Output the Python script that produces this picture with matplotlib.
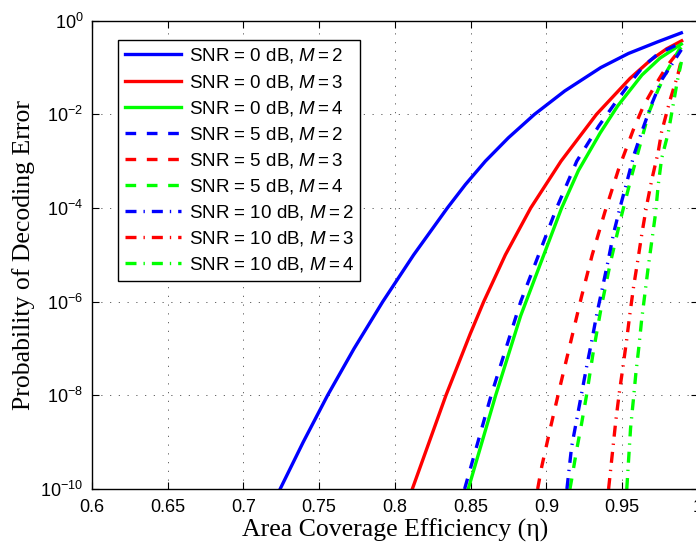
import numpy as np
import matplotlib
matplotlib.use('Agg')
import matplotlib.pyplot as plt
from matplotlib.ticker import NullLocator

plt.rcParams['font.family'] = ['Liberation Sans', 'DejaVu Sans']
plt.rcParams['mathtext.fontset'] = 'custom'
plt.rcParams['mathtext.rm'] = 'Liberation Sans'
plt.rcParams['mathtext.it'] = 'Liberation Sans:italic'
plt.rcParams['mathtext.bf'] = 'Liberation Sans:bold'

# values: eta and log10(P)
eta_0dB_M2 = [0.7243, 0.7395, 0.7556, 0.7731, 0.7920, 0.8124, 0.8346, 0.8465, 0.8597, 0.8749, 0.8921, 0.9121, 0.9359, 0.9541, 0.9735, 0.9890]
logp_0dB_M2 = [-10, -9, -8, -7, -6, -5, -4, -3.5, -3, -2.5, -2, -1.5, -1.0, -0.7, -0.45, -0.26]

eta_0dB_M3 = [0.8115, 0.8337, 0.8498, 0.8586, 0.8729, 0.8896, 0.9096, 0.9330, 0.9552, 0.9684, 0.9793, 0.9892]
logp_0dB_M3 = [-10, -8, -6.68, -6, -5, -4, -3, -2, -1.23, -0.85, -0.60, -0.43]

eta_0dB_M4 = [0.8484, 0.8665, 0.8830, 0.9100, 0.9211, 0.9354, 0.9470, 0.9630, 0.9749, 0.9890]
logp_0dB_M4 = [-10, -8, -6.3, -4, -3.2, -2.4, -1.82, -1.16, -0.80, -0.50]

eta_5dB_M2 = [0.8460, 0.8635, 0.8830, 0.9067, 0.9200, 0.9345, 0.9455, 0.9553, 0.9638, 0.9735, 0.9890]
logp_5dB_M2 = [-10, -8, -6, -4, -3, -2.25, -1.75, -1.32, -0.98, -0.71, -0.47]

eta_5dB_M3 = [0.8942, 0.8969, 0.9023, 0.9092, 0.9230, 0.9302, 0.9386, 0.9478, 0.9573, 0.9640, 0.9712, 0.9795, 0.9890]
logp_5dB_M3 = [-10, -9.52, -8.74, -7.78, -5.91, -5.0, -4.08, -3.15, -2.33, -1.82, -1.41, -0.97, -0.58]

eta_5dB_M4 = [0.9155, 0.9166, 0.9199, 0.9232, 0.9265, 0.9309, 0.9362, 0.9421, 0.9489, 0.9564, 0.9639, 0.9677, 0.9736, 0.9796, 0.9875, 0.9890]
logp_5dB_M4 = [-10, -9.8, -9.17, -8.6, -7.99, -7.07, -6.11, -5.18, -4.24, -3.29, -2.40, -1.95, -1.48, -1.07, -0.62, -0.57]

eta_10dB_M2 = [0.9135, 0.9166, 0.9199, 0.9232, 0.9265, 0.9300, 0.9333, 0.9371, 0.9408, 0.9443, 0.9487, 0.9531, 0.9577, 0.9628, 0.9694, 0.9763, 0.9842, 0.9890]
logp_10dB_M2 = [-10, -9.1, -8.53, -7.96, -7.39, -6.82, -6.25, -5.68, -5.11, -4.54, -3.97, -3.44, -2.87, -2.38, -1.78, -1.25, -0.86, -0.62]

eta_10dB_M3 = [0.9410, 0.9457, 0.9480, 0.9505, 0.9529, 0.9551, 0.9575, 0.9604, 0.9630, 0.9661, 0.9696, 0.9737, 0.9760, 0.9815, 0.9868, 0.9890]
logp_10dB_M3 = [-10, -8.56, -7.96, -7.39, -6.82, -6.25, -5.68, -5.09, -4.54, -3.95, -3.38, -2.81, -2.37, -1.70, -1.14, -0.85]

eta_10dB_M4 = [0.9530, 0.9544, 0.9555, 0.9573, 0.9590, 0.9610, 0.9628, 0.9650, 0.9672, 0.9696, 0.9720, 0.9737, 0.9760, 0.9803, 0.9864, 0.9890]
logp_10dB_M4 = [-10, -9.27, -8.70, -8.11, -7.53, -6.96, -6.39, -5.82, -5.25, -4.68, -4.11, -3.52, -2.94, -2.40, -1.28, -0.88]

labels = ['SNR = 0 dB, $\\mathit{M = 2}$', 'SNR = 0 dB, $\\mathit{M = 3}$', 'SNR = 0 dB, $\\mathit{M = 4}$',
          'SNR = 5 dB, $\\mathit{M = 2}$', 'SNR = 5 dB, $\\mathit{M = 3}$', 'SNR = 5 dB, $\\mathit{M = 4}$',
          'SNR = 10 dB, $\\mathit{M = 2}$', 'SNR = 10 dB, $\\mathit{M = 3}$', 'SNR = 10 dB, $\\mathit{M = 4}$']

xticks = [0.6, 0.65, 0.7, 0.75, 0.8, 0.85, 0.9, 0.95, 1.0]
xtick_labels = ['0.6', '0.65', '0.7', '0.75', '0.8', '0.85', '0.9', '0.95', '1']
yticks = [1e-10, 1e-8, 1e-6, 1e-4, 1e-2, 1e0]
ytick_labels = ['$10^{-10}$', '$10^{-8}$', '$10^{-6}$', '$10^{-4}$', '$10^{-2}$', '$10^{0}$']

series = [(eta_0dB_M2, logp_0dB_M2), (eta_0dB_M3, logp_0dB_M3), (eta_0dB_M4, logp_0dB_M4),
          (eta_5dB_M2, logp_5dB_M2), (eta_5dB_M3, logp_5dB_M3), (eta_5dB_M4, logp_5dB_M4),
          (eta_10dB_M2, logp_10dB_M2), (eta_10dB_M3, logp_10dB_M3), (eta_10dB_M4, logp_10dB_M4)]

colors = ['#0000ff', '#ff0000', '#00ff00']
dash = (0, (3.2, 3.2))
dashdot = (0, (3.3, 2.1, 0.4, 2.1))
styles = ['-', dash, dashdot]

fig = plt.figure(figsize=(6.96, 5.46), dpi=100)
ax = fig.add_axes([0.1318, 0.1044, 0.8711, 0.8577])

for i, (eta, logp) in enumerate(series):
    ax.plot(eta, 10.0 ** np.array(logp), color=colors[i % 3], linestyle=styles[i // 3],
            lw=2.4, label=labels[i])

ax.set_yscale('log')
ax.set_xlim(0.6, 1.0)
ax.set_ylim(1e-10, 1e0)
ax.set_xticks(xticks)
ax.set_xticklabels(xtick_labels)
ax.set_yticks(yticks)
ax.set_yticklabels(ytick_labels)
ax.yaxis.set_minor_locator(NullLocator())
ax.tick_params(direction='in', top=True, right=True, length=5, width=0.8,
               labelsize=13, colors='black')
ax.tick_params(axis='x', pad=7)
ax.tick_params(axis='y', pad=6)
ax.grid(True, color='0.3', linestyle=(0, (1.5, 9)), lw=0.6)
for sp in ax.spines.values():
    sp.set_linewidth(1.0)

ax.set_xlabel('Area Coverage Efficiency (\u03b7)', family='Liberation Serif', fontsize=18.5)
ax.set_ylabel('Probability of Decoding Error', family='Liberation Serif', fontsize=18.5)
ax.xaxis.set_label_coords(0.5, -0.064)
ax.yaxis.set_label_coords(-0.094, 0.5)

leg = ax.legend(loc='upper left', bbox_to_anchor=(0.044, 0.959), borderaxespad=0,
                fontsize=13.5, handlelength=3.0, handletextpad=0.4, labelspacing=0.38,
                borderpad=0.35, fancybox=False, framealpha=1, edgecolor='black')
leg.get_frame().set_linewidth(1.0)

fig.savefig('out.png', dpi=100)
